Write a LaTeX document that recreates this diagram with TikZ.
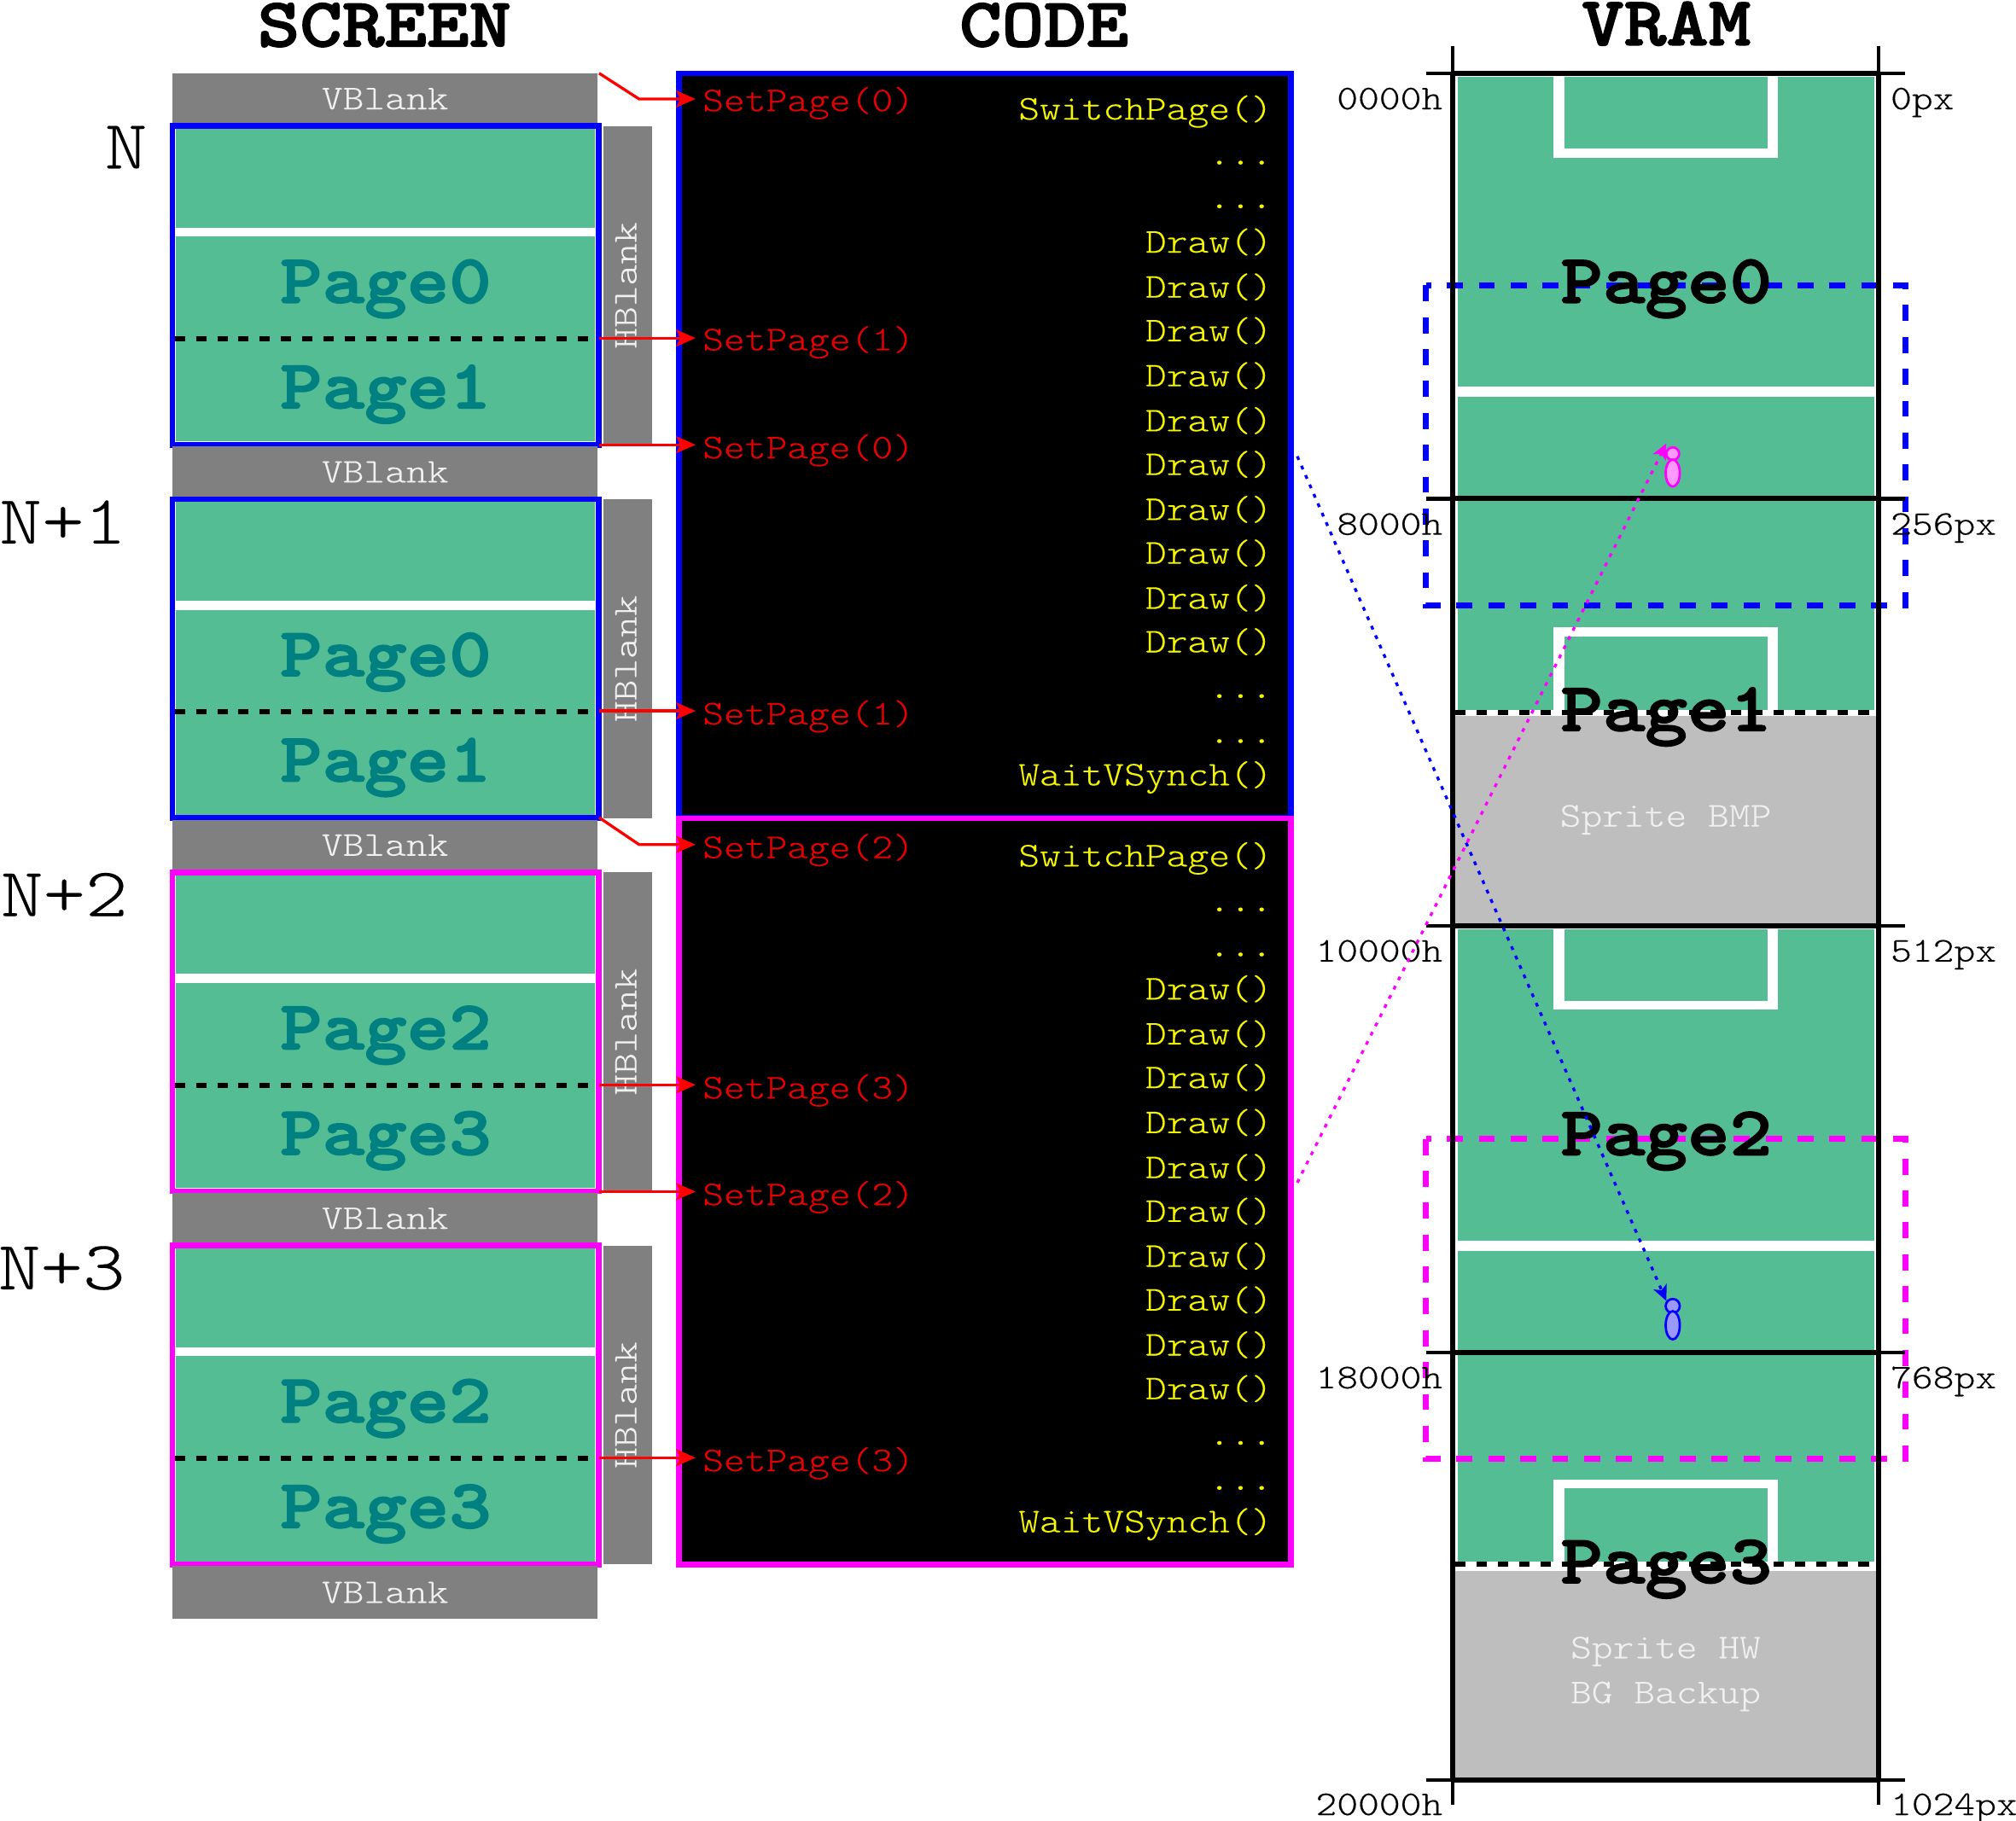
\documentclass[tikz,border=0pt]{standalone}
\usepackage{fontspec}
\usetikzlibrary{arrows.meta}
\newfontfamily\thinmono[FakeStretch=1.16,FakeBold=0.25]{Latin Modern Mono Light}
\newfontfamily\heavymono[FakeStretch=1.16,BoldFeatures={FakeBold=2}]{Latin Modern Mono Light}
\definecolor{field}{HTML}{54BD93}
\definecolor{blankgrey}{HTML}{808080}
\definecolor{spritegrey}{HTML}{BEBEBE}
\definecolor{pageteal}{HTML}{008080}
\definecolor{codeyellow}{HTML}{F5F500}
\definecolor{codered}{HTML}{E60000}
\definecolor{softwhite}{HTML}{F0F0F0}
\definecolor{framemag}{HTML}{FF00FF}
\definecolor{frameblue}{HTML}{0000FF}
\definecolor{purered}{HTML}{FF0000}
\tikzset{
 x=1pt,y=-1pt,
 inner sep=0pt,outer sep=0pt,
 smalltext/.style={font=\thinmono\fontsize{27}{27}\selectfont},
 bigtext/.style={font=\thinmono\fontsize{54}{54}\selectfont},
 heavytext/.style={font=\heavymono\bfseries\fontsize{54}{54}\selectfont},
 titletext/.style={heavytext,anchor=base},
 pagelabel/.style={heavytext,anchor=base,text=pageteal},
 vrampage/.style={heavytext,anchor=base,text=black},
 blanklabel/.style={smalltext,text=softwhite,anchor=base},
 setpagelabel/.style={smalltext,text=codered,anchor=base west},
 codelabel/.style={smalltext,text=codeyellow,anchor=base east},
 addrlabel/.style={smalltext,text=black,anchor=base east},
 pxlabel/.style={smalltext,text=black,anchor=base west},
 syncarrow/.style={draw=purered,line width=2.2pt,-{Stealth[length=15pt,width=13pt,inset=3pt]}},
 scanline/.style={draw=black,line width=4pt,dash pattern=on 8pt off 8.5pt},
 winline/.style={line width=4.4pt,dash pattern=on 12.5pt off 12.3pt},
 beamarrow/.style={line width=2.2pt,dash pattern=on 3pt off 5pt,-{Stealth[length=12pt,width=11pt,inset=3pt]}},
 memline/.style={draw=black,line width=4pt},
 tickline/.style={draw=black,line width=2.8pt},
}
\begin{document}
\begin{tikzpicture}
\useasboundingbox (0,0) rectangle (1568,1416.6);
% titles
\node[titletext] (tscreen) at (299,36) {SCREEN};
\node[titletext] (tcode) at (812,36) {CODE};
\node[titletext] (tvram) at (1296,35) {VRAM};
% screen frames
\foreach \i/\c/\pa/\pb/\lab/\lx/\ly in {0/frameblue/0/1/N/98/131,1/frameblue/0/1/N+1/49/132.5,2/framemag/2/3/N+2/50/132,3/framemag/2/3/N+3/48/132}{
 \pgfmathsetmacro\o{\i*290.33}
 \begin{scope}[yshift=-\o pt]
  \fill[blankgrey] (134,57) rectangle (465,98);
  \node[blanklabel] (vb\i) at (299.5,85) {VBlank};
  \fill[blankgrey] (469,98) rectangle (507,346);
  \node[blanklabel,rotate=90] (hb\i) at (495,222) {HBlank};
  \fill[white] (134,98) rectangle (465,346);
  \fill[field] (137,100) rectangle (463,177);
  \fill[field] (137,184) rectangle (463,343.5);
  \draw[scanline] (136,263.5) -- (463,263.5);
  \draw[draw=\c,line width=4.4pt] (134,98) rectangle (465.5,346);
  \node[pagelabel] (pga\i) at (300,235.5) {Page\pa};
  \node[pagelabel] (pgb\i) at (300,317.5) {Page\pb};
  \node[bigtext,anchor=base] (lab\i) at (\lx,\ly) {\lab};
 \end{scope}
}
\fill[blankgrey] (134,1218) rectangle (465,1259);
\node[blanklabel] (vb4) at (299.5,1247) {VBlank};
% code panel
\draw[draw=frameblue,fill=black,line width=4.4pt] (528,57) rectangle (1004,636);
\draw[draw=framemag,fill=black,line width=4.4pt] (528,636.5) rectangle (1004,1217);
\foreach \j/\y in {0/93,1/674}{
 \node[codelabel] (sw\j) at (989.5,\y) {SwitchPage()};
}
\foreach \j/\y in {0/611,1/1192}{
 \node[codelabel] (wv\j) at (989.5,\y) {WaitVSynch()};
}
\foreach \j/\y in {0/128,1/162,2/543,3/578,4/709,5/744,6/1124,7/1159}{
 \node[codelabel] (dots\j) at (989.5,\y) {...};
}
\foreach \j/\y in {0/0,1/581}{
 \foreach \k/\d in {0/196.5,1/231.5,2/265.5,3/300.5,4/335.5,5/369.5,6/404.5,7/438.5,8/473.5,9/507.5}{
  \pgfmathsetmacro\yy{\d+\y}
  \node[codelabel] (dr\j\k) at (989.5,\yy) {Draw()};
 }
}
% SetPage labels and connectors
\foreach \n/\p/\ty/\ay/\sy/\bx in {
 0/0/86.5/77/57/497,
 1/1/272.5/263/263/497,
 2/0/356.5/346/346/497,
 3/1/563.5/553/553/497,
 4/2/667.5/657/636/497,
 5/3/854.5/844/844/497,
 6/2/937.5/927/927/497,
 7/3/1144.5/1134/1134/497}{
 \node[setpagelabel] (sp\n) at (546.5,\ty) {SetPage(\p)};
 \coordinate (from\n) at (466,\sy);
 \coordinate (bend\n) at (\bx,\ay);
 \coordinate (to\n) at (541,\ay);
 \draw[syncarrow] (from\n) -- (bend\n) -- (to\n);
}
% VRAM
\foreach \j/\ya/\yb/\yc/\yd/\ye/\yf/\yg/\pa/\pb in {
 0/60/301/309/552/557/718/0/0/1,
 1/723/965/973/1215/1222/1383/663/2/3}{
 \fill[field] (1133.5,\ya) rectangle (1458,\yd);
 \fill[white] (1133.5,\yb) rectangle (1458,\yc);
 \fill[spritegrey] (1131,\ye) rectangle (1460,\yf);
 \pgfmathsetmacro\ga{57+\yg}
 \pgfmathsetmacro\gb{122.5+\yg}
 \pgfmathsetmacro\gc{60+\yg}
 \pgfmathsetmacro\gd{115.5+\yg}
 \pgfmathsetmacro\ge{488+\yg}
 \pgfmathsetmacro\gf{495+\yg}
 \pgfmathsetmacro\gg{\yd}
 \fill[white] (1208.5,\ga) rectangle (1382.5,\gb);
 \fill[field] (1216.5,\gc) rectangle (1375,\gd);
 \fill[white] (1208.5,\ge) rectangle (1382.5,\gg);
 \fill[field] (1216.5,\gf) rectangle (1375,\gg);
 \pgfmathsetmacro\dy{\yd+2}
 \draw[scanline] (1132,\dy) -- (1458,\dy);
}
\node[blanklabel] (bmp) at (1295.5,643) {Sprite BMP};
\node[blanklabel] (hw) at (1295.5,1290) {Sprite HW};
\node[blanklabel] (bg) at (1295.5,1325) {BG Backup};
\draw[winline,draw=frameblue] (1109,222) rectangle (1482,471);
\draw[winline,draw=framemag] (1109,886) rectangle (1482,1135);
\foreach \y in {57,388,720,1052,1385}{
 \draw[tickline] (1109,\y) -- (1482,\y);
 \draw[memline] (1130,\y) -- (1461,\y);
}
\draw[tickline] (1130,36) -- (1130,1404);
\draw[tickline] (1461,36) -- (1461,1404);
\draw[memline] (1130,57) -- (1130,1385);
\draw[memline] (1461,57) -- (1461,1385);
\foreach \n/\a/\b/\y in {0/0000h/0px/85,1/8000h/256px/416,2/10000h/512px/748,3/18000h/768px/1080,4/20000h/1024px/1412}{
 \node[addrlabel] (ad\n) at (1122,\y) {\a};
 \node[pxlabel] (pxl\n) at (1470.5,\y) {\b};
}
\node[vrampage] (vp0) at (1296,235.5) {Page0};
\node[vrampage] (vp1) at (1296,568.5) {Page1};
\node[vrampage] (vp2) at (1296,898.5) {Page2};
\node[vrampage] (vp3) at (1296,1231.5) {Page3};
% sprites
\draw[draw=framemag,fill=framemag!40!white,line width=1.8pt] (1301,353) circle[radius=5];
\draw[draw=framemag,fill=framemag!40!white,line width=1.8pt] (1301,368) ellipse[x radius=5.5,y radius=10.5];
\draw[draw=frameblue,fill=frameblue!40!white,line width=1.8pt] (1301,1016) circle[radius=5.5];
\draw[draw=frameblue,fill=frameblue!40!white,line width=1.8pt] (1301,1031) ellipse[x radius=5.5,y radius=11];
\coordinate (bluefrom) at (1009,355);
\coordinate (blueto) at (1296,1012);
\coordinate (magfrom) at (1009,920);
\coordinate (magto) at (1296,345);
\draw[beamarrow,draw=frameblue] (bluefrom) -- (blueto);
\draw[beamarrow,draw=framemag] (magfrom) -- (magto);
\end{tikzpicture}
\end{document}
